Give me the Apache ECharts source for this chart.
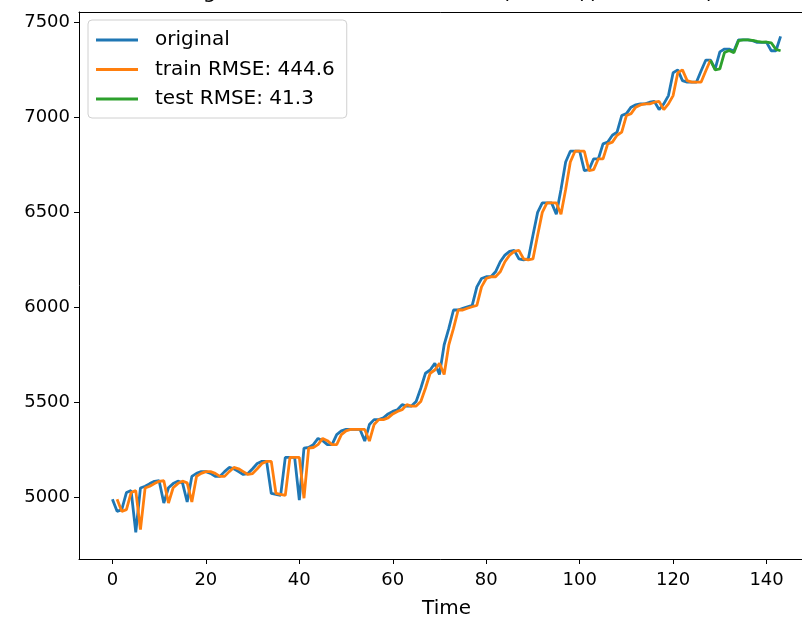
<!DOCTYPE html>
<html>
<head>
<meta charset="utf-8">
<script src="https://cdn.jsdelivr.net/npm/echarts@6/dist/echarts.min.js"></script>
<style>
  html, body { margin: 0; padding: 0; background: #fff; }
  #chart { width: 802px; height: 621px; }
</style>
</head>
<body>
<div id="chart"></div>
<script>
// values
const original = [
  4990, 4926, 4935, 5025, 5035, 4815, 5049, 5058, 5072, 5084,
  5087, 4970, 5050, 5072, 5085, 5076, 4975, 5110, 5126, 5135,
  5135, 5126, 5110, 5110, 5135, 5157, 5150, 5135, 5120, 5125,
  5150, 5178, 5189, 5189, 5020, 5015, 5010, 5210, 5210, 5210,
  4985, 5259, 5262, 5277, 5310, 5298, 5277, 5277, 5330, 5350,
  5357, 5357, 5357, 5357, 5296, 5383, 5409, 5409, 5418, 5439,
  5452, 5461, 5488, 5480, 5480, 5504, 5574, 5653, 5670, 5705,
  5646, 5803, 5889, 5986, 5986, 5995, 6003, 6010, 6108, 6152,
  6161, 6161, 6187, 6240, 6275, 6295, 6300, 6255, 6250, 6255,
  6380, 6500, 6550, 6550, 6550, 6490, 6620, 6765, 6822, 6822,
  6822, 6720, 6725, 6782, 6782, 6861, 6870, 6906, 6923, 7010,
  7020, 7054, 7066, 7071, 7071, 7080, 7084, 7041, 7071, 7115,
  7235, 7250, 7194, 7186, 7186, 7186, 7246, 7302, 7302, 7255,
  7345, 7360, 7360, 7350, 7408, 7408, 7408, 7404, 7395, 7395,
  7395, 7351, 7351, 7427
];

// train predictions start at t = 1
const trainStart = 1;
const trainPred = [
  4990, 4926, 4935, 5025, 5035, 4830, 5049, 5058, 5072, 5084,
  5087, 4970, 5050, 5072, 5085, 5076, 4975, 5110, 5126, 5135,
  5135, 5126, 5110, 5110, 5135, 5157, 5150, 5135, 5120, 5125,
  5150, 5178, 5189, 5189, 5020, 5015, 5010, 5210, 5210, 5210,
  4995, 5259, 5262, 5277, 5310, 5298, 5277, 5277, 5330, 5350,
  5357, 5357, 5357, 5357, 5296, 5383, 5409, 5409, 5418, 5439,
  5452, 5461, 5488, 5480, 5480, 5504, 5574, 5653, 5670, 5705,
  5646, 5803, 5889, 5986, 5986, 5995, 6003, 6010, 6108, 6152,
  6161, 6161, 6187, 6240, 6275, 6295, 6300, 6255, 6250, 6255,
  6380, 6500, 6550, 6550, 6550, 6490, 6620, 6765, 6822, 6822,
  6822, 6720, 6725, 6782, 6782, 6861, 6870, 6906, 6923, 7010,
  7020, 7054, 7066, 7071, 7071, 7080, 7084, 7041, 7071, 7115,
  7235, 7250, 7194, 7186, 7186, 7186, 7246, 7302
];

// test predictions start at t = 128
const testStart = 128;
const testPred = [
  7300, 7250, 7255, 7342, 7352, 7340, 7404, 7408, 7408, 7406,
  7400, 7396, 7397, 7393, 7358, 7351
];

const xTicks = [0, 20, 40, 60, 80, 100, 120, 140];
const yTicks = [5000, 5500, 6000, 6500, 7000, 7500];
const seriesNames = ['original', 'train RMSE: 444.6', 'test RMSE: 41.3'];
// only the bottom of the title is inside the picture
const titleText = 'Log-series SARIMAX forecast: (1, 1, 1)(1, 1, 1, 12)';

const FONT = "'DejaVu Sans', sans-serif";

function toPoints (values, start) {
  return values.map((v, i) => [start + i, v]);
}

const chart = echarts.init(document.getElementById('chart'), null, { renderer: 'canvas' });

chart.setOption({
  animation: false,
  backgroundColor: '#fff',
  textStyle: { fontFamily: FONT },
  graphic: [{
    type: 'text',
    x: 446,
    y: -18.5,
    silent: true,
    style: {
      text: titleText,
      fontFamily: FONT, fontSize: 21.6, fill: '#000',
      align: 'center', verticalAlign: 'top'
    }
  }],
  grid: {
    left: 79, right: -12, top: 12, bottom: 62,
    show: false,
    containLabel: false,
    outerBoundsMode: 'none'
  },
  legend: {
    orient: 'vertical',
    left: 88,
    top: 20,
    data: seriesNames,
    icon: 'rect',
    itemWidth: 42,
    itemHeight: 3,
    itemGap: 9.5,
    padding: [10, 12, 9, 8],
    backgroundColor: '#fff',
    borderColor: '#d0d0d0',
    borderWidth: 1,
    borderRadius: 4,
    textStyle: {
      fontFamily: FONT, fontSize: 20, color: '#000',
      lineHeight: 20, padding: [0, 0, 0, 12]
    }
  },
  xAxis: [{
    type: 'value',
    min: -7.15,
    max: 150.15,
    name: 'Time',
    nameLocation: 'middle',
    nameGap: 40,
    nameTextStyle: { fontFamily: FONT, fontSize: 20, color: '#000' },
    splitLine: { show: false },
    axisLine: { show: true, onZero: false, lineStyle: { color: '#000', width: 1 } },
    axisTick: { show: true, customValues: xTicks, length: 5, lineStyle: { color: '#000' } },
    axisLabel: { customValues: xTicks, margin: 12, fontFamily: FONT, fontSize: 18, color: '#000' }
  }, {
    // top spine only
    type: 'value',
    position: 'top',
    min: -7.15,
    max: 150.15,
    splitLine: { show: false },
    axisLine: { show: true, onZero: false, lineStyle: { color: '#000', width: 1 } },
    axisTick: { show: false },
    axisLabel: { show: false }
  }],
  yAxis: {
    type: 'value',
    min: 4675,
    max: 7555,
    splitLine: { show: false },
    axisLine: { show: true, onZero: false, lineStyle: { color: '#000', width: 1 } },
    axisTick: { show: true, customValues: yTicks, length: 5, lineStyle: { color: '#000' } },
    axisLabel: {
      customValues: yTicks, margin: 9, fontFamily: FONT, fontSize: 18, color: '#000',
      formatter: v => String(v)
    }
  },
  series: [
    {
      name: seriesNames[0], type: 'line', showSymbol: false, symbol: 'none',
      data: toPoints(original, 0),
      lineStyle: { color: '#1f77b4', width: 2.8 }, itemStyle: { color: '#1f77b4' }
    },
    {
      name: seriesNames[1], type: 'line', showSymbol: false, symbol: 'none',
      data: toPoints(trainPred, trainStart),
      lineStyle: { color: '#ff7f0e', width: 2.8 }, itemStyle: { color: '#ff7f0e' }
    },
    {
      name: seriesNames[2], type: 'line', showSymbol: false, symbol: 'none',
      data: toPoints(testPred, testStart),
      lineStyle: { color: '#2ca02c', width: 2.8 }, itemStyle: { color: '#2ca02c' }
    }
  ]
});
</script>
</body>
</html>
